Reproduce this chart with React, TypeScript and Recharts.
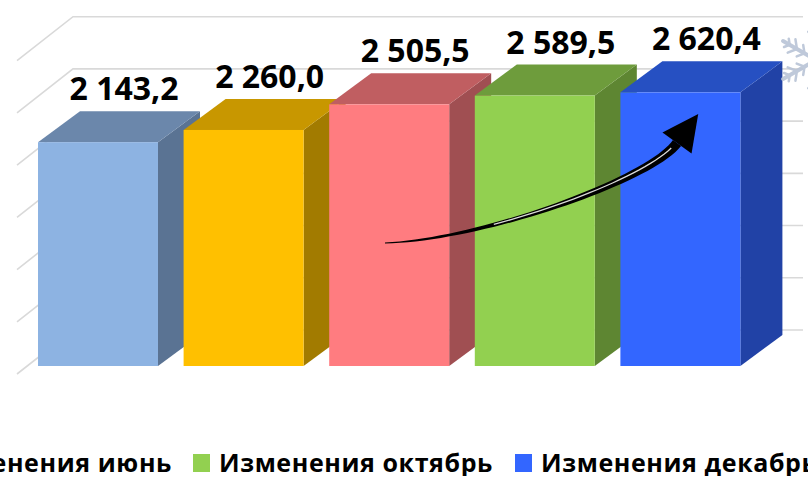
import React from 'react';
import { BarChart, Bar, XAxis, YAxis, CartesianGrid, LabelList, Legend } from 'recharts';

const categories = ['Изменения январь', 'Изменения март', 'Изменения июнь', 'Изменения октябрь', 'Изменения декабрь'];
const values = [2143.2, 2260.0, 2505.5, 2589.5, 2620.4];
const yTicks = [0, 500, 1000, 1500, 2000, 2500, 3000];

const frontColors = ['#8DB3E2', '#FFC000', '#FF7C80', '#92D050', '#3366FF'];
const topColors = ['#6B87AB', '#C89700', '#C05E61', '#6E9C3C', '#2650C2'];
const sideColors = ['#5A7393', '#A27B00', '#A04F52', '#5E8632', '#2142A6'];

const data = categories.map((name, i) => ({ name, value: values[i] }));

const DX = 42;
const DY = 31;
const FONT = '"Open Sans", "DejaVu Sans", sans-serif';

function fmt(v: number) {
  const [i, d] = v.toFixed(1).split('.');
  return i.replace(/\B(?=(\d{3})+(?!\d))/g, ' ') + ',' + d;
}

function arrowShape() {
  const P0 = [385, 243], C1 = [480, 240], C2 = [650, 180], P1 = [677, 143];
  const pt = (t: number) => {
    const a = (1 - t) ** 3, b = 3 * t * (1 - t) ** 2, c = 3 * t * t * (1 - t), d = t ** 3;
    return [a * P0[0] + b * C1[0] + c * C2[0] + d * P1[0], a * P0[1] + b * C1[1] + c * C2[1] + d * P1[1]];
  };
  const tan = (t: number) => {
    const a = -3 * (1 - t) ** 2, b = 3 * (1 - t) ** 2 - 6 * t * (1 - t), c = 6 * t * (1 - t) - 3 * t * t, d = 3 * t * t;
    const x = a * P0[0] + b * C1[0] + c * C2[0] + d * P1[0];
    const y = a * P0[1] + b * C1[1] + c * C2[1] + d * P1[1];
    const l = Math.hypot(x, y);
    return [x / l, y / l];
  };
  const left: number[][] = [];
  const right: number[][] = [];
  const glossPts: number[][] = [];
  const N = 40;
  for (let k = 0; k <= N; k++) {
    const t = k / N;
    const p = pt(t);
    const [tx, ty] = tan(t);
    const nx = ty, ny = -tx;
    const w = 0.5 + 4.5 * t;
    left.push([p[0] - nx * w, p[1] - ny * w]);
    right.push([p[0] + nx * w, p[1] + ny * w]);
    if (t > 0.3 && t < 0.96) glossPts.push([p[0] + nx * w * 0.2, p[1] + ny * w * 0.2]);
  }
  const body = 'M' + left.map((p) => p.join(',')).join('L') + 'L' + right.reverse().map((p) => p.join(',')).join('L') + 'Z';
  const [tx, ty] = tan(1);
  const nx = ty, ny = -tx;
  const tip = [P1[0] + tx * 36, P1[1] + ty * 36];
  const w1 = [P1[0] + nx * 18, P1[1] + ny * 18];
  const w2 = [P1[0] - nx * 18, P1[1] - ny * 18];
  const head = `M${w1.join(',')}L${tip.join(',')}L${w2.join(',')}Z`;
  const gloss = 'M' + glossPts.map((p) => p.join(',')).join('L');
  return { body, head, gloss };
}

function Snowflake({ cx, cy, r }: { cx: number; cy: number; r: number }) {
  const arms = [0, 60, 120, 180, 240, 300];
  return (
    <g stroke="#B9C4D6" strokeWidth={4} strokeLinecap="round" fill="none" opacity={0.9}>
      <circle cx={cx} cy={cy} r={r * 0.2} fill="#C9D2E0" stroke="none" />
      {arms.map((a) => {
        const rad = ((a + 90) * Math.PI) / 180;
        const ex = cx + Math.cos(rad) * r, ey = cy + Math.sin(rad) * r;
        const branches = [0.35, 0.58, 0.8].map((f, j) => {
          const bx = cx + Math.cos(rad) * r * f, by = cy + Math.sin(rad) * r * f;
          const bl = r * (j === 0 ? 0.22 : j === 1 ? 0.26 : 0.16);
          return [1, -1].map((s) => {
            const br = rad + s * (Math.PI / 3.5);
            return <line key={`${a}-${j}-${s}`} x1={bx} y1={by} x2={bx + Math.cos(br) * bl} y2={by + Math.sin(br) * bl} strokeWidth={2.5} />;
          });
        });
        return (
          <g key={a}>
            <line x1={cx} y1={cy} x2={ex} y2={ey} />
            {branches}
          </g>
        );
      })}
    </g>
  );
}

const Bar3D = (props: any) => {
  const { x, y, width, height, index } = props;
  if (x == null || y == null) return null;
  const w = width, h = height;
  const top = `M${x},${y}L${x + DX},${y - DY}L${x + w + DX},${y - DY}L${x + w},${y}Z`;
  const side = `M${x + w},${y}L${x + w + DX},${y - DY}L${x + w + DX},${y + h - DY}L${x + w},${y + h}Z`;
  const isLast = index === values.length - 1;
  const arrow = isLast ? arrowShape() : null;
  return (
    <g>
      <path d={side} fill={sideColors[index]} />
      <path d={top} fill={topColors[index]} />
      <rect x={x} y={y} width={w} height={h} fill={frontColors[index]} />
      {arrow && (
        <g>
          <path d={arrow.body} fill="#000" />
          <path d={arrow.head} fill="#000" />
          <path d={arrow.gloss} stroke="#fff" strokeWidth={1.3} fill="none" opacity={0.85} />
        </g>
      )}
      {isLast && <Snowflake cx={816} cy={60} r={38} />}
    </g>
  );
};

const renderLabel = (props: any) => {
  const { x, y, width, value } = props;
  return (
    <text
      x={x + width / 2 + DX / 2 + 5}
      y={y - DY - 11}
      textAnchor="middle"
      fontFamily={FONT}
      fontWeight={700}
      fontSize={32}
      fill="#000"
    >
      {fmt(Number(value))}
    </text>
  );
};

const gridLine = (props: any) => {
  const { x1, y1, x2 } = props;
  const fx = x1 - 8, fy = y1 + 8;
  const bx = x1 + 48, by = y1 - 36;
  return (
    <g key={props.key ?? `g-${y1}`}>
      <path d={`M${fx},${fy}L${bx},${by}L${x2 + 50},${by}`} stroke="#D9D9D9" strokeWidth={1.6} fill="none" />
    </g>
  );
};

const LegendContent = () => {
  const item = (i: number, first: boolean) => (
    <div key={i} style={{ display: 'flex', alignItems: 'center', marginLeft: first ? 0 : 22, whiteSpace: 'nowrap' }}>
      <div style={{ width: 17, height: 18, background: frontColors[i], marginRight: 9 }} />
      <span style={{ fontFamily: FONT, fontWeight: 700, fontSize: 25, letterSpacing: 0.6, color: '#000', lineHeight: '27px' }}>{categories[i]}</span>
    </div>
  );
  return (
    <div style={{ position: 'relative', width: 808, height: 27, overflow: 'hidden' }}>
      <div style={{ position: 'absolute', right: 808 - 172, top: 0, display: 'flex' }}>
        {[0, 1, 2].map((i) => item(i, i === 0))}
      </div>
      <div style={{ position: 'absolute', left: 193, top: 0, display: 'flex' }}>
        {[3, 4].map((i) => item(i, i === 3))}
      </div>
    </div>
  );
};

export default function App() {
  return (
    <div style={{ position: 'absolute', left: 0, top: 0, width: 808, height: 477, background: '#fff', overflow: 'hidden' }}>
      <BarChart width={808} height={477} data={data} margin={{ top: 52.7, right: 55, bottom: 84, left: 25 }}>
        <CartesianGrid vertical={false} horizontal={gridLine} />
        <XAxis dataKey="name" hide />
        <YAxis domain={[0, 3000]} ticks={yTicks} hide />
        <Legend
          content={<LegendContent />}
          wrapperStyle={{ position: 'absolute', left: 0, top: 449, width: 808, height: 27 }}
        />
        <Bar dataKey="value" barSize={120} shape={Bar3D} isAnimationActive={false}>
          <LabelList dataKey="value" content={renderLabel} />
        </Bar>
      </BarChart>
    </div>
  );
}
